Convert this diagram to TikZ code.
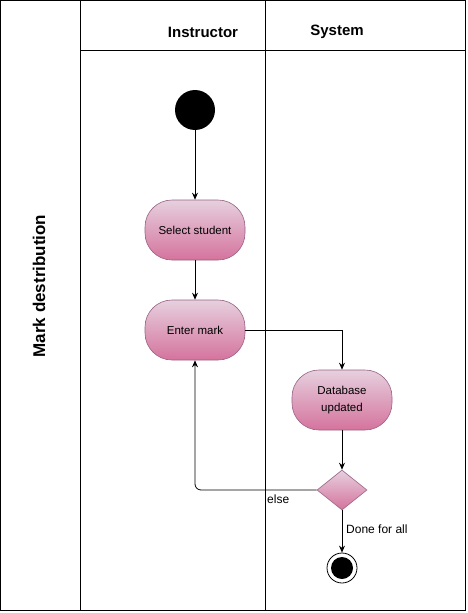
\documentclass[tikz,border=0pt]{standalone}
\usepackage{fontspec}
\setmainfont{Liberation Sans}
\usetikzlibrary{shapes.geometric,arrows.meta}
\definecolor{actTop}{HTML}{E6D0DE}
\definecolor{actBot}{HTML}{D5739D}
\definecolor{actLine}{HTML}{996185}
\begin{document}
\begin{tikzpicture}[x=1pt,y=-1pt,
  lane/.style={draw=black,line width=0.8pt},
  activity/.style={draw=actLine,line width=0.6pt,rounded corners=27pt,
    top color=actTop,bottom color=actBot,minimum width=100pt,minimum height=60pt,
    inner sep=0pt,align=center,font=\fontsize{11.5}{15}\selectfont},
  decision/.style={diamond,draw=actLine,line width=0.6pt,top color=actTop,
    bottom color=actBot,minimum width=50pt,minimum height=40pt,inner sep=0pt},
  flow/.style={draw=black,line width=0.8pt,-{Stealth[length=7pt,width=6pt]}},
  header/.style={font=\bfseries\fontsize{15}{18}\selectfont},
  guard/.style={font=\fontsize{12}{14}\selectfont,anchor=west,inner sep=0pt}]
\useasboundingbox (0,0) rectangle (467,613);
% pool and lanes
\draw[lane] (0.5,0.5) rectangle (465.5,610);
\draw[lane] (80,0.5) -- (80,610);
\draw[lane] (265.5,0.5) -- (265.5,610);
\draw[lane] (80,50.7) -- (465.5,50.7);
\node[header] (hInstr) at (203,32) {Instructor};
\node[header] (hSys) at (337,32) {System};
\node[font=\bfseries\fontsize{17}{20}\selectfont,rotate=90] (pool) at (39,286) {Mark destribution};
% activity nodes
\node[circle,fill=black,minimum size=40pt,inner sep=0pt] (start) at (195,110) {};
\node[activity] (select) at (195,230) {Select student};
\node[activity] (enter) at (195,330) {Enter mark};
\node[activity] (db) at (342,400) {Database\\[2pt]updated};
\node[decision] (dec) at (342,490) {};
\node[circle,draw=black,fill=white,line width=0.8pt,minimum size=30pt,inner sep=0pt] (stop) at (342,568) {};
\node[circle,fill=black,minimum size=22pt,inner sep=0pt] (stopdot) at (stop) {};
% flows
\draw[flow] (start) -- (select);
\draw[flow] (select) -- (enter);
\draw[flow] (enter.east) -| (db.north);
\draw[flow] (db) -- (dec);
\draw[flow] (dec) -- (stop);
\draw[flow,rounded corners=6pt] (dec.west) -| (enter.south);
\node[guard] (lElse) at (267,499) {else};
\node[guard] (lDone) at (346,529) {Done for all};
\end{tikzpicture}
\end{document}
